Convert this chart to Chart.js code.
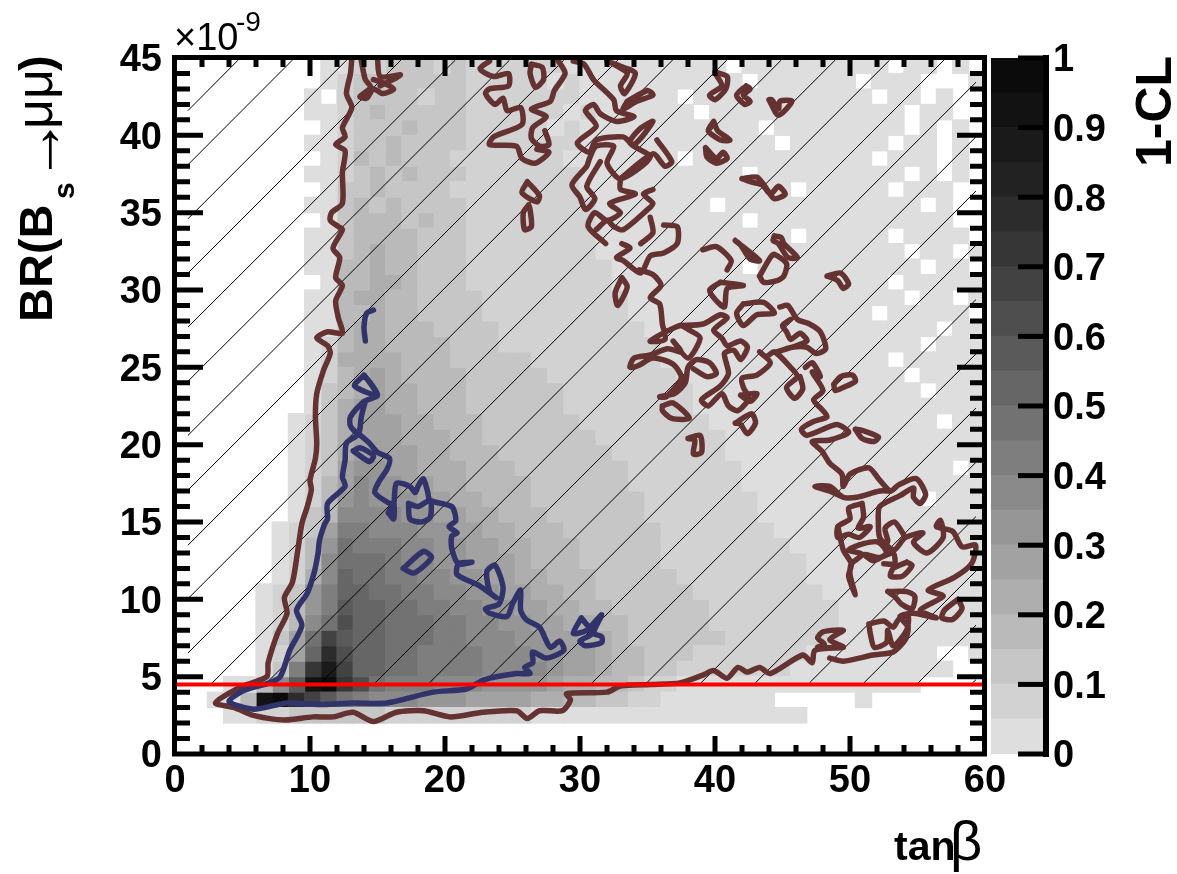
<!DOCTYPE html>
<html>
<head>
<meta charset="utf-8">
<title>1-CL map</title>
<script src="https://cdn.jsdelivr.net/npm/chart.js@4/dist/chart.umd.js"></script>
<style>
	html, body { margin: 0; padding: 0; background: #fff; }
	canvas { position: absolute; top: 0; }
</style>
</head>
<body>
<canvas id="mapCanvas" width="1177" height="874" style="left:0"></canvas>
<canvas id="barCanvas" width="192" height="874" style="left:985px"></canvas>
<script>
// grey level of each 1-CL band, 0-0.05 first
var palette = ['#dedede', '#d2d2d2', '#c6c6c6', '#bababa', '#aeaeae', '#a2a2a2', '#969696', '#8a8a8a', '#7e7e7e', '#727272',
	'#666666', '#5a5a5a', '#4e4e4e', '#424242', '#363636', '#2c2c2c', '#222222', '#1a1a1a', '#121212', '#0b0b0b'];
var bandWidths = [0.05, 0.05, 0.05, 0.05, 0.05, 0.05, 0.05, 0.05, 0.05, 0.05, 0.05, 0.05, 0.05, 0.05, 0.05, 0.05, 0.05, 0.05, 0.05, 0.05];

// tanb bins of 1.2, BR bins of 1e-9. first string is the top row. '.' is empty, else base 36 band index
var binWidth = 1.2;
var heatRows = [
	".........0 0112221211 1111000000 0000.00000 0000.00.0.",
	".........0 1222222211 1110100000 00000.0000 00.000...0",
	"........0. 1222212211 1111100000 0.00000000 000.00.0..",
	"........00 1232222211 1111010000 00.0000000 00000.00..",
	".........0 1222322211 1110100000 000000.000 00000.0.0.",
	"........00 1223222211 1111100000 0000000.00 0000.00.0.",
	".........0 1323222111 1111000000 0.00000000 000.000.0.",
	"........00 1232322211 1111100000 00000.0000 00000.0.0.",
	".........0 2232222111 1111100000 00000000.0 0000.000..",
	"........00 2323222211 1111110000 000.000000 000000.0..",
	".........0 2333232211 1111110000 00000.0000 00000000..",
	"........00 2333322211 1111110000 00000000.0 0000.0000.",
	"........00 2343322211 1111110000 0000000000 00000.00.0",
	"........00 3343322211 1111111000 00000.0000 000000.00.",
	".........0 3344322211 1111111000 0000000000 0000.00000",
	"........00 3443322221 1111111100 0000000000 00000.00.0",
	"........00 3343322221 1111111100 0000000000 000.00000.",
	"........00 3443332222 1111111110 0000000000 0000000.00",
	"........01 3443333222 1111111111 0000000000 000000.000",
	"........01 4444333222 2211111111 0000000000 0000.00000",
	"........01 3454333322 2221111111 1000000000 00000.0000",
	"........02 3454433322 2222111111 1100000000 000000.000",
	"........02 4554433322 2222111111 1100000000 0000000000",
	".......012 4555443332 2222211111 1110000000 0000000.00",
	".......012 4555444332 2222221111 1111000000 0000000000",
	".......012 4555544333 2222222111 1111000000 0000000000",
	".......012 5665544433 3222222211 1111100000 00000000.0",
	".......013 5766554433 3322222211 1111100000 0000000000",
	".......013 6766655443 3322222221 1111110000 000000.000",
	".......023 7777665544 3332222221 1111110000 0000000000",
	"......0125 8877766554 4333222222 1111111000 0000000000",
	"......0136 9888776655 4433322222 1111111100 0000000000",
	"......0137 9998776655 5433322222 1111111110 0000000000",
	"......0147 a998877665 5443332222 2111111110 0000000000",
	".....01268 aa99887766 5544332222 2211111111 0000000000",
	".....01368 baa9988776 6554433222 2221111111 1000000000",
	".....01379 caa9998877 6655443322 2221111111 1000000000",
	".....0259d baa9998877 7665544322 2222111111 1000000000",
	".....015af caa9988887 7766554332 2211111110 0000000..0",
	".....028eh daa9988887 7776554332 2111111100 00000000..",
	"...0037bij ec98887776 6665443321 1000000000 000000....",
	"..003ijfdb 9877766655 5544332211 0000000... ..0.......",
	"...0011222 2221111111 1100000000 000000000. ..........",
	".......... .......... .......... .......... ..........",
	".......... .......... .......... .......... .........."
];

var xTickStep = 2;
var yTickStep = 1;
var smLimit = 4.5;

// hatched region, one line per index
var hatchX1 = [0.96, 0.96, 0.96, 0.96, 0.96, 0.96, 0.96, 0.96, 0.96, 0.96, 0.96, 2.76, 6.79, 10.8, 14.83, 18.85, 22.87, 26.9, 30.9, 34.94, 38.96, 42.99, 47, 51.03, 55.05, 59.07];
var hatchY1 = [41.6, 38.1, 34.6, 31.1, 27.6, 24.1, 20.6, 17.06, 13.5, 10.04, 6.53, 4.6, 4.6, 4.6, 4.6, 4.6, 4.6, 4.6, 4.6, 4.6, 4.6, 4.6, 4.6, 4.6, 4.6, 4.6];
var hatchX2 = [4.67, 8.69, 12.71, 16.73, 20.76, 24.78, 28.8, 32.8, 36.85, 40.87, 44.9, 48.9, 52.93, 56.96, 59.33, 59.33, 59.33, 59.33, 59.33, 59.33, 59.33, 59.33, 59.33, 59.33, 59.33, 59.33];
var hatchY2 = [44.86, 44.86, 44.86, 44.86, 44.86, 44.86, 44.86, 44.86, 44.86, 44.86, 44.86, 44.86, 44.86, 44.86, 43.43, 39.9, 36.4, 32.9, 29.38, 25.87, 22.37, 18.86, 15.35, 11.83, 8.33, 4.8];

// 95% CL outline
var brownOuter = [[13.1,45],[13,44],[12.7,42.7],[13.1,41.8],[12.4,40.5],[12.6,39.9],[11.9,39.4],[12.6,39],[12.4,37.6],[12.4,35.6],[11.6,35],[11.5,34.5],[12.1,34.1],[12.4,33.9],[11.7,32.7],[12.2,32.1],[11.9,30.8],[12.4,30.3],[11.9,29.3],[12.1,28.2],[12.4,27.2],[11.3,27.3],[10.5,26.9],[11.3,26.4],[11.5,25.9],[11,24.8],[10.5,23.3],[10.4,21.8],[10.5,20.1],[10.4,19.1],[10,17.7],[10.1,17.1],[9.8,16],[9.4,14.9],[9.1,13.2],[8.7,11.1],[8.1,10.1],[8.3,9.1],[7.6,7.8],[6.9,5.9],[6.8,5],[4.8,4.3],[3,3.3],[4.4,3],[5.8,2.5],[8.1,2.2],[10.2,2.4],[11.7,2.4],[13.2,2.7],[14.7,2.1],[16.4,2.7],[18.4,2.8],[20.4,2.4],[22.8,2.7],[25.3,2.8],[26.1,2.3],[27,2.8],[28.7,2.8],[29.3,3.5],[29,3.9],[32,4],[33,4.4],[35.2,4.5],[37.4,4.6],[39.1,5.1],[39.9,5.4],[40.9,4.9],[41.7,5.6],[42.4,5.3],[43.3,5.6],[44.1,5.2],[46.5,6.4],[47.2,5.9],[47.4,6.7],[49.5,6.9]];
var brownEast = [[48.5,6.2],[49.5,6],[51.7,6.4],[53.2,6.6],[54.1,7.4],[54.3,8.2],[53.7,8.9],[54.7,9.1],[56.4,8.8],[55.2,9.3],[56.9,10.2],[55.8,10.6],[57.7,11.4],[59,12.3],[59.3,13.5],[58.3,13.4],[57.6,14.4],[56.4,14.7],[56.7,15.1],[56.9,14],[55.7,13],[54.7,13.7],[55.4,14.3],[54.1,14],[53.3,13.2],[52.7,13.5],[52.8,13.8],[52.6,14.6],[53.3,15],[54.1,14]];
var brownRidge = [[52.7,13.5],[52.2,14],[52.1,14.9],[52.2,16],[53.7,16.7],[54.7,17.2],[54.7,16.6],[55.2,16.2],[55.6,16.8],[54.9,17.8],[53.6,17.4],[53,17],[52.2,17.7],[51.4,18.5],[50,18.1],[49.5,17.3],[49.4,18.1],[48.5,18.8],[47.9,19.6],[47.2,20.2],[48.5,20.3],[49.9,20.8],[49,21.3],[46.8,20.6],[46.4,21],[47.3,21.5],[48.3,21.8],[48,22.2],[47.3,22.9],[48,23.5],[47.2,24.7],[47.8,24.4],[47.2,25.3],[46.7,25]];
var brownFoot = [[53,17],[52.2,17],[50.5,16.6],[49.5,16.6],[48.5,17.3],[47.4,17.3],[48.5,17],[49.5,16.6]];
var brownSpike = [[49.1,14.7],[49.5,13.2],[50.1,12.3],[49.9,11.5],[50.4,10.3],[50,11.6],[50.1,12.3],[50.9,12.9],[49.9,13.2],[51,13.6],[52.1,13.7],[52.7,13],[51.7,12.5],[51.1,12.9],[52.2,12.7],[53.2,13],[53.3,12.3],[52.5,12.3]];
var brownMid1 = [[34.4,31.3],[35.4,31],[36,30.3],[35.2,29.5],[35.9,29.1],[36.1,27.8],[36.3,26.8],[35.2,26.7],[37.4,27.7],[38.1,27.4],[38.9,26.9],[38,25.6],[36.9,26.7],[37.5,26],[36.5,26.2],[35.2,25.8],[34,25.6],[33.7,25],[34.3,25.1],[35.4,25.6],[36.9,25.2],[37.5,24.3],[36.4,23.1],[35.9,23.1],[37,23.3],[37.8,24],[38,25],[38.6,25.5],[39.6,25.3],[40.1,24.6],[39.4,24.4],[38.4,24.9]];
var brownMid2 = [[37.4,27.7],[39.1,27.8],[40.4,28.4],[40.9,28.2],[39.9,27.4],[40.5,26.9],[40.9,26.4],[41.9,26.7],[42.4,26.3],[41.9,25.5],[41.4,26.1],[40.7,25.9],[41,24.6],[40.4,23.8],[39,22.9],[39.5,22.5],[40.5,23.3],[41,22.5],[41.7,22.2],[42.5,23],[42.1,23.7],[42,24.3],[43.1,24.5],[44.1,25.3],[43.3,26],[43.8,25.7],[44.4,26],[45.6,25],[46.1,24.4],[45.3,23.7],[45.9,23],[46.5,23.6],[46.3,24.4]];
var brownMid3 = [[44.8,28.9],[45.4,29],[46.1,28.1],[47,27.8],[47.8,27.3],[48.2,26.2],[47.5,25.9],[46.8,26.3],[45.7,26.3],[44.6,26],[46.8,26.7],[46.3,27.2],[45.6,26.8],[45.3,27.3],[45,27.7],[45.6,28.1]];
var brownTop1 = [[23.3,44.8],[22.6,44.3],[23.6,43.8],[24.7,44],[24.7,43.2],[23.3,43],[23,42.7],[23.7,42],[24.3,42.4],[24.6,41.6],[25.6,41.8],[25.7,40.7],[23.6,39.9],[23.3,39.4],[25.3,39.3],[25.7,38.5],[26.7,38.2],[27.7,38.9],[26.8,39.1]];
var brownTop2 = [[28.4,44.8],[28.9,44],[28.1,42.9],[27.8,42.2],[26.4,41.7],[27.5,41.2],[26.5,40.5],[26.4,39.8],[27,39.3],[27.7,39.4],[27.4,40.3]];
var brownTop3 = [[29.5,44.8],[30.3,44.6],[31,43.6],[32.5,42.3],[32.7,41.6],[34,41.2],[32.7,40.9],[31.5,41.4],[31,42],[30.4,41.6],[31.2,40.6],[29.8,39.5],[30.7,38.9],[31.2,39.7],[33.2,39.9],[34,39.4],[35.4,40.9],[34.4,40.4],[33.7,39.5],[35.2,38.6],[33,37.2],[32,38.2],[32.5,39.3],[31.2,39.3],[30.7,38.5],[30.5,38],[29.4,36.8],[30,36],[30.4,35.2],[31.1,35.9],[30.5,36.7],[31.5,38.3]];
var brownTop4 = [[33,37.2],[33,36.5],[34.1,36.2],[32.2,35.6],[33,35],[32,34.5],[31.1,35],[30.6,34.1],[31.9,33]];
var brownTop5 = [[31.2,33.9],[32,34.5],[32.5,34.1],[33.2,33.9],[35,35.2],[35.4,35.6],[34.7,36.2],[35.4,36.5]];
var brownTop6 = [[35.2,34.7],[35.4,33.7],[34.5,33]];
var brownTop7 = [[36.2,34.2],[37.2,34.1],[37.2,33],[36.2,32.4],[35.2,32.2],[34.5,31.1],[33.2,31.9],[32.7,32.1],[33.7,32.7],[33.1,33]];
var brownHook = [[32,44.8],[33.2,44.4],[34.1,44],[33.3,42.7],[33,43.2],[33.5,44],[32.5,44.6]];
var brownNotch = [[35.7,39.7],[36.8,38.3],[36.3,38],[35.4,38.8],[33,37.2]];
var brownCorner = [[13.8,44.8],[14.1,43.6],[14.5,43.1],[13.7,42.5],[14.2,42.4],[14.7,43],[15.4,42.7],[16.2,43],[15.4,43.4],[14.7,43.6]];
var brownCorner2 = [[15,45],[15.2,43.8],[16.7,43.9],[15.2,43.2]];
var brownArch = [[39.1,32.6],[40.1,32.8],[41.2,31.9],[40.9,31.3]];

// closed islands of the same contour
var brownLoops = [
	[[47.6,6.9],[49.5,6.9],[48.5,7.4],[49.5,8],[48,7.9],[47.6,7.5],[48.1,7.1]],
	[[50.4,21],[51,20.9],[52.1,20.5],[51.8,20.2],[50.9,20.4]],
	[[50.9,16.2],[51,15.3],[50.6,14.6],[51.5,14.7],[50.7,14],[49.9,14.2],[49.1,14],[49.1,14.7],[50,15.2],[49.9,15.9]],
	[[54.2,12.4],[54.6,12.2],[53.9,11.5],[53,11.5],[53.2,12]],
	[[52.8,10.5],[54.2,10.5],[54.8,10.2],[54.6,9.4],[53.8,9.7],[53.3,10.2]],
	[[58,10],[58.3,9.4],[57.6,8.7],[56.8,8.8],[57,9.3]],
	[[51.4,8.4],[52.5,8.6],[53.2,8.2],[53.6,8.7],[54.3,8.9],[54.2,8],[53.2,7],[52.8,8],[52.7,7.2],[51.8,6.9],[51.5,7.8]],
	[[41.9,23.2],[43.1,23.3],[42.6,22.8]],
	[[41.5,21.4],[42.7,22],[43,21.4],[42.4,20.7],[41.9,21.3]],
	[[36.1,22.5],[36.9,22.7],[38.1,21.7],[36.8,21.7],[36.1,22.2]],
	[[38,20.4],[38.9,20.6],[39,19.5],[38.4,19.4],[38.5,20.3]],
	[[33.1,30.8],[32.6,29.8],[32.8,29],[33.5,30.2]],
	[[40.4,30.5],[42.1,30.3],[40.9,30.1],[40.7,28.9],[40,29.4],[39.6,30]],
	[[42.1,29.1],[43.6,29.2],[44.4,28.5],[43.1,28.4],[42.1,27.7],[41.6,28.5]],
	[[48.3,30.9],[49.3,31.1],[49.9,30.4],[49.5,30.1],[49.1,30.6]],
	[[48.8,23.9],[49.3,24.4],[50.2,24.5],[50.4,24.1],[49.5,23.7],[48.9,23.5]],
	[[26.4,44.6],[27.2,44.4],[27.3,43.6],[26.7,43.1],[26.3,44]],
	[[26.1,37],[25.7,36.3],[26.8,35.7],[27,36.1]],
	[[26.2,35.5],[25.8,35],[25.9,33.9],[26.4,34.1],[26.3,35.2]],
	[[33.5,42.2],[35,42.9],[35.4,42.6],[34.2,42.2],[33.2,41.7]],
	[[40,44.1],[40.9,43.8],[40.8,43],[40,42.3],[39.6,42.6],[40.5,43.2],[40.1,43.9]],
	[[39.9,40.9],[39.5,40.3],[40.4,39.7],[41.1,39.7],[40.2,40.3]],
	[[39.3,39.2],[39.4,38.6],[40.1,38.2],[40.9,38.5],[40.6,38.9],[40.1,38.5]],
	[[42.3,43.2],[41.6,42.6],[42.2,42],[42.6,42.2],[42.1,42.6],[42.6,43]],
	[[44,42.3],[44.7,41.3],[45.7,42.2],[44.8,42.2],[44.7,41.7],[44.2,42.3]],
	[[42,37.2],[43.1,37.3],[43.7,36.7],[44.4,35.9],[45.2,36.2],[44.7,36.7],[44.1,36.2],[43.5,36.8],[42.6,37]],
	[[41.5,33.2],[43.3,31.9],[42.6,32],[41.9,32.9]],
	[[44.4,33.5],[44.9,33.4],[45.1,33],[46.1,32.1],[45.4,32.1],[44.7,33],[44.3,33.2]],
	[[43.3,30.9],[44.1,32.1],[44.4,32.3],[45.3,31.7],[45.1,30.9],[44.6,30.6],[43.6,30.5]]
];

// 68% CL outline
var blueMain = [[14,24.5],[13.3,23.8],[15,23.2],[14,24.5],[15,23.2],[14,22.8],[13,21.8],[13,21.2],[13.6,20.7],[13.8,21.8],[14.1,22.8],[13.8,21.8],[13.6,20.7],[12.7,20.1],[12.6,19],[12.4,17.9],[12.6,17.3],[11.3,16.2],[11.3,15.2],[11.1,14.9],[10.7,13.8],[10.6,13],[10.3,11.7],[9.8,10.4],[9,9.3],[9.4,8.3],[8.5,6.7],[7.8,5],[7,4.6],[5.1,4.1],[4,3.4],[5.8,2.9],[8.3,3.3],[10.7,3.2],[13.2,3.3],[15.7,3.3],[19.1,4],[21.6,4.2],[22.9,4.8],[25.3,5.2],[26.3,5.2],[25.9,5.6],[26.5,5.9],[26.5,6.6],[27.5,6.2],[28.8,6.7],[28.5,7.3],[27.8,6.9],[27,8.2],[26,8.7],[25.6,9.3],[25.6,10.6],[25,9.7],[24.6,8.9],[23.3,9.1],[23,9.4],[24,9.7],[24.3,10.8],[23.7,12.2],[23.1,11.8],[23.3,10.5],[23.8,10.1],[22.5,10.9],[20.9,11.6],[21,12.3],[22,12.4],[21,12.3],[20.5,13.3],[20.5,14.1],[20.9,14.3],[20.3,14.7],[20.8,15.1],[20.5,16],[18.9,16.4],[18.7,17],[18.4,17.8],[18,17.3],[17.8,16.9],[17.4,17.3],[16.4,17.5],[16.2,16.2],[15.9,16.2],[14.8,16.9],[15.1,17.6],[15.7,18.4],[15.9,19.1],[15,19.5],[14.4,20.1],[13.6,20.7]];
var blueTail = [[14.7,28.7],[14.2,28.5],[14,27.6],[14.1,26.7]];
var blueLoops = [
	[[13.2,19.6],[14.4,18.9],[14.7,19.3],[13.7,19.8]],
	[[16.9,12],[18.4,13.1],[19,12.7],[17.7,11.7]],
	[[17.3,16.2],[17.4,15.2],[18.2,15],[18.9,15.3],[18.9,16.4],[18,16]],
	[[15.8,15.6],[16.2,15.2],[16.2,16.2]],
	[[30.1,8.8],[29.5,7.8],[30.5,8],[31.6,9],[31,7.8],[31.6,7.6],[31.6,7.2],[30.4,7],[30,7.3],[30.9,7.8]]
];

var brownPaths = [brownOuter, brownEast, brownRidge, brownFoot, brownSpike, brownMid1, brownMid2, brownMid3, brownTop1, brownTop2, brownTop3, brownTop4, brownTop5, brownTop6, brownTop7, brownHook, brownNotch, brownCorner, brownCorner2, brownArch];

function toPoints(path, closed) {
	var pts = path.map(function(p) {
		return { x: p[0], y: p[1] };
	});
	if(closed) {
		pts.push({ x: path[0][0], y: path[0][1] });
	}
	return pts;
}

function contourDataset(path, closed, color, order) {
	return {
		type: 'line',
		data: toPoints(path, closed),
		borderColor: color,
		borderWidth: 5.5,
		borderJoinStyle: 'round',
		borderCapStyle: 'round',
		tension: 0.25,
		pointRadius: 0,
		fill: false,
		order: order
	};
}

var datasets = [];

// heat map, one bar dataset per band
var cells = palette.map(function() { return []; });
heatRows.forEach(function(row, r) {
	var chars = row.split(' ').join('');
	for(var c = 0; c < chars.length; c++) {
		if(chars[c] !== '.') {
			cells[parseInt(chars[c], 36)].push({ x: (c + 0.5) * binWidth, y: [44 - r, 45 - r] });
		}
	}
});
cells.forEach(function(list, level) {
	datasets.push({
		type: 'bar',
		data: list,
		backgroundColor: palette[level],
		borderWidth: 0,
		inflateAmount: 0.6,
		grouped: false,
		barThickness: 16.2,
		order: 20
	});
});

var hatchData = [];
hatchX1.forEach(function(x, i) {
	hatchData.push({ x: x, y: hatchY1[i] });
	hatchData.push({ x: hatchX2[i], y: hatchY2[i] });
	hatchData.push({ x: hatchX2[i], y: null });
});
datasets.push({
	type: 'line',
	data: hatchData,
	borderColor: '#000',
	borderWidth: 1,
	pointRadius: 0,
	spanGaps: false,
	fill: false,
	order: 10
});

brownPaths.forEach(function(path) {
	datasets.push(contourDataset(path, false, '#653232', 5));
});
brownLoops.forEach(function(path) {
	datasets.push(contourDataset(path, true, '#653232', 5));
});
datasets.push(contourDataset(blueTail, false, '#33336b', 4));
datasets.push(contourDataset(blueMain, false, '#33336b', 4));
blueLoops.forEach(function(path) {
	datasets.push(contourDataset(path, true, '#33336b', 4));
});

datasets.push({
	type: 'line',
	data: [{ x: 0, y: smLimit }, { x: 60, y: smLimit }],
	borderColor: '#ff0000',
	borderWidth: 4,
	pointRadius: 0,
	fill: false,
	order: 1
});

function drawRotated(ctx, text, x, y, font) {
	ctx.save();
	ctx.translate(x, y);
	ctx.rotate(-Math.PI / 2);
	ctx.font = font;
	ctx.fillText(text, 0, 0);
	ctx.restore();
}

// ROOT style frame: ticks point inwards on all four sides
var framePlugin = {
	id: 'frame',
	afterDatasetsDraw: function(chart) {
		var ctx = chart.ctx;
		var area = chart.chartArea;
		ctx.save();
		ctx.strokeStyle = '#000';
		ctx.lineWidth = 5;
		ctx.strokeRect(area.left - 0.5, area.top - 0.5, area.right - area.left, area.bottom - area.top + 0.5);
		chart.scales.x.ticks.forEach(function(t) {
			var px = chart.scales.x.getPixelForValue(t.value);
			var len = t.value % 10 === 0 ? 18 : 9;
			if(t.value === 0 || t.value === 60) {
				return;
			}
			ctx.beginPath();
			ctx.moveTo(px, area.bottom);
			ctx.lineTo(px, area.bottom - len);
			ctx.moveTo(px, area.top);
			ctx.lineTo(px, area.top + len);
			ctx.stroke();
		});
		chart.scales.y.ticks.forEach(function(t) {
			var py = chart.scales.y.getPixelForValue(t.value);
			var len = t.value % 5 === 0 ? 28 : 15;
			if(t.value === 0 || t.value === 45) {
				return;
			}
			ctx.beginPath();
			ctx.moveTo(area.left, py);
			ctx.lineTo(area.left + len, py);
			ctx.moveTo(area.right, py);
			ctx.lineTo(area.right - len, py);
			ctx.stroke();
		});
		ctx.restore();
	},
	afterDraw: function(chart) {
		var ctx = chart.ctx;
		ctx.save();
		ctx.fillStyle = '#000';
		ctx.textAlign = 'left';
		ctx.textBaseline = 'alphabetic';
		ctx.font = '38px "Liberation Sans"';
		ctx.fillText('\u00d710', 174, 50);
		ctx.font = '28px "Liberation Sans"';
		ctx.fillText('-9', 236, 31);
		ctx.font = 'bold 41px "Liberation Sans"';
		ctx.fillText('tan', 894, 860);
		ctx.font = '56px "Liberation Sans"';
		ctx.fillText('\u03b2', 950, 860);
		drawRotated(ctx, 'BR(B', 52, 322, 'bold 47px "Liberation Sans"');
		drawRotated(ctx, 's', 74, 199, 'bold 30px "Liberation Sans"');
		drawRotated(ctx, '\u2192', 61, 182, '65px "Liberation Sans"');
		drawRotated(ctx, '\u03bc\u03bc', 52, 129, '52px "Liberation Sans"');
		drawRotated(ctx, ')', 52, 71, 'bold 47px "Liberation Sans"');
		ctx.restore();
	}
};

new Chart(document.getElementById('mapCanvas'), {
	type: 'bar',
	data: { datasets: datasets },
	plugins: [framePlugin],
	options: {
		responsive: false,
		animation: false,
		layout: { padding: { left: 0, top: 58, right: 192, bottom: 60 } },
		plugins: { legend: { display: false }, tooltip: { enabled: false } },
		scales: {
			x: {
				type: 'linear',
				offset: false,
				min: 0,
				max: 60,
				grid: { display: false, drawTicks: false },
				border: { display: false },
				afterFit: function(scale) { scale.height = 60; },
				ticks: {
					stepSize: xTickStep,
					autoSkip: false,
					maxRotation: 0,
					padding: 5,
					color: '#000',
					font: { family: '"Liberation Sans"', size: 38, weight: 'bold' },
					callback: function(v) { return v % 10 === 0 ? v : ''; }
				}
			},
			y: {
				type: 'linear',
				min: 0,
				max: 45,
				grid: { display: false, drawTicks: false },
				border: { display: false },
				afterFit: function(scale) { scale.width = 175; },
				ticks: {
					stepSize: yTickStep,
					autoSkip: false,
					padding: 13,
					labelOffset: 3,
					color: '#000',
					font: { family: '"Liberation Sans"', size: 38, weight: 'bold' },
					callback: function(v) { return v % 5 === 0 ? v : ''; }
				}
			}
		}
	}
});

// colour scale next to the map
var barPlugin = {
	id: 'barFrame',
	afterDatasetsDraw: function(chart) {
		var ctx = chart.ctx;
		var area = chart.chartArea;
		var scale = chart.scales.y;
		ctx.save();
		ctx.fillStyle = '#000';
		ctx.fillRect(area.right, area.top - 3, 6, area.bottom - area.top + 6);
		scale.ticks.forEach(function(t) {
			var py = scale.getPixelForValue(t.value);
			ctx.fillRect(area.right - 25, py - 2.5, 25, 5);
		});
		drawRotated(ctx, '1-CL', 186, 167, 'bold 50px "Liberation Sans"');
		ctx.restore();
	}
};

new Chart(document.getElementById('barCanvas'), {
	type: 'bar',
	data: {
		labels: ['1-CL'],
		datasets: bandWidths.map(function(w, i) {
			return { data: [w], backgroundColor: palette[i], borderWidth: 0, inflateAmount: 0.6, barPercentage: 1, categoryPercentage: 1 };
		})
	},
	plugins: [barPlugin],
	options: {
		responsive: false,
		animation: false,
		layout: { padding: { left: 6, top: 58, right: 0, bottom: 120 } },
		plugins: { legend: { display: false }, tooltip: { enabled: false } },
		scales: {
			x: { stacked: true, display: false },
			y: {
				stacked: true,
				position: 'right',
				min: 0,
				max: 1,
				grid: { display: false, drawTicks: false },
				border: { display: false },
				afterFit: function(scale) { scale.width = 134; },
				ticks: {
					stepSize: 0.1,
					padding: 10,
					labelOffset: 3,
					color: '#000',
					font: { family: '"Liberation Sans"', size: 38, weight: 'bold' },
					callback: function(v) { return Math.round(v * 10) / 10; }
				}
			}
		}
	}
});
</script>
</body>
</html>
